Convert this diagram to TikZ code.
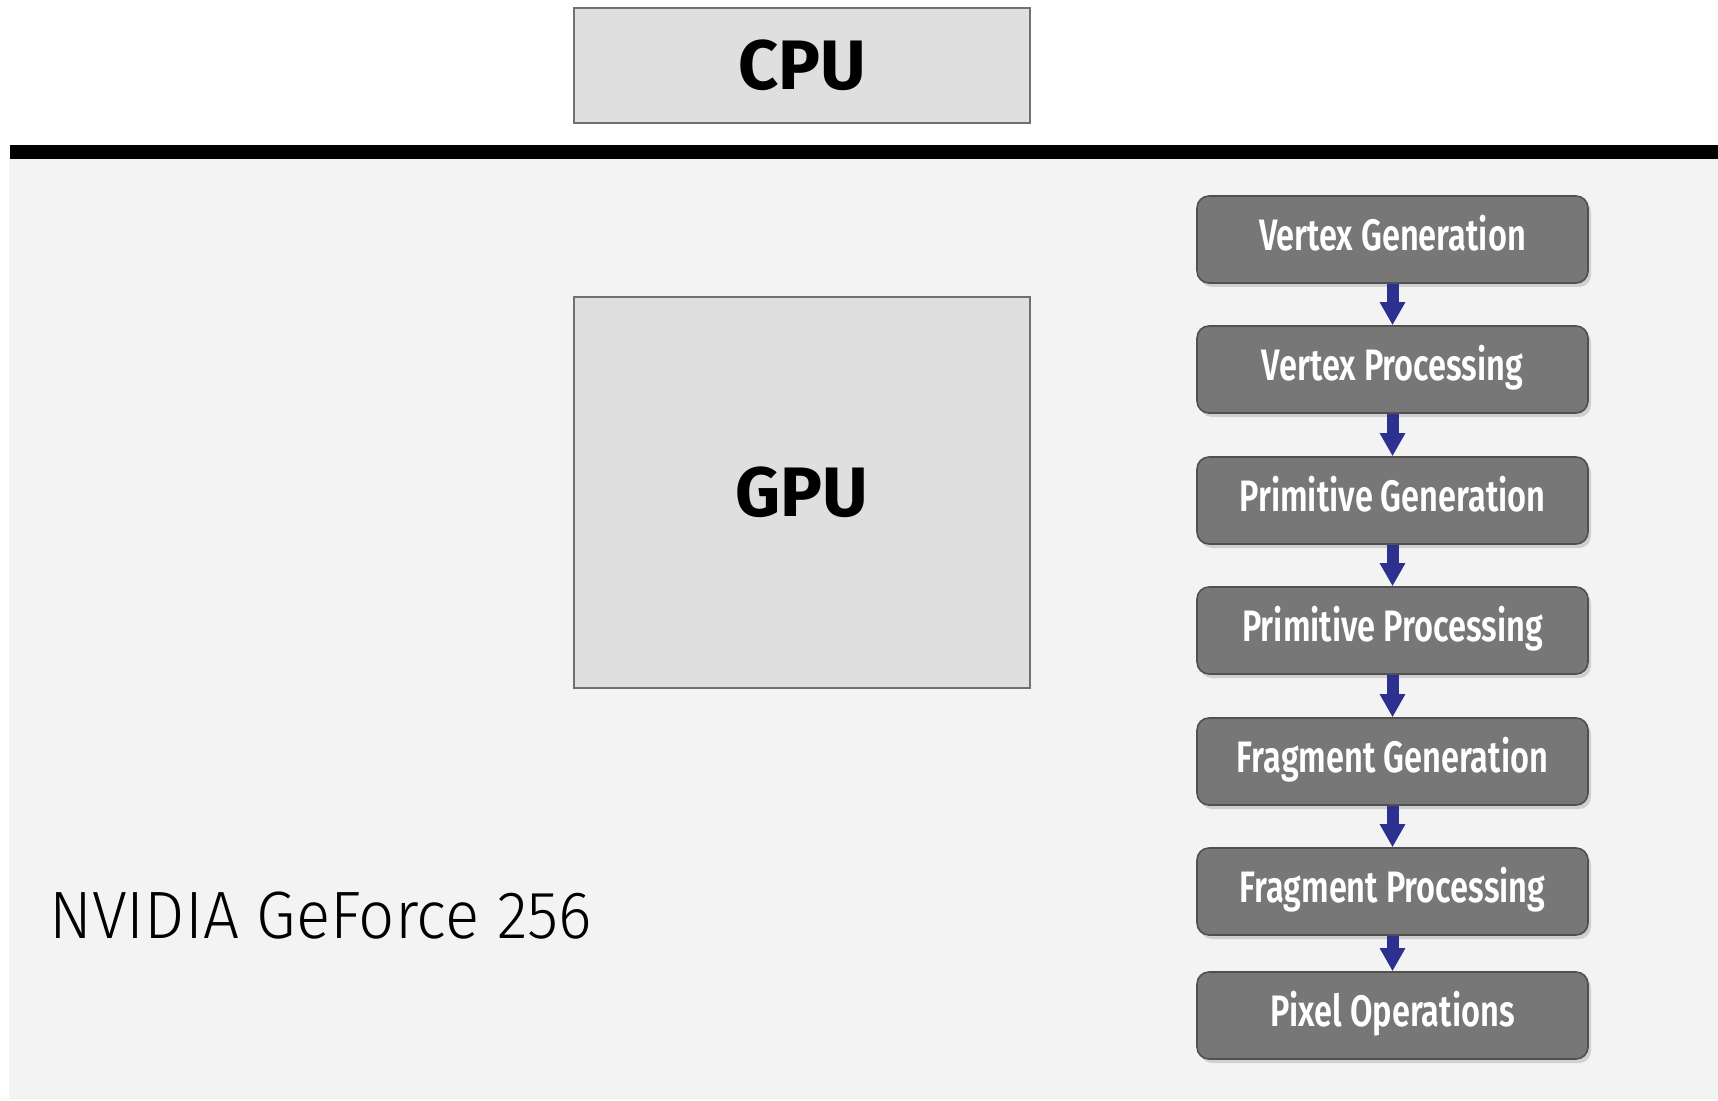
\documentclass[tikz,border=0pt]{standalone}
\usepackage{fontspec}
\setmainfont{Fira Sans}
\newfontfamily\stagefont[FakeStretch=0.74]{Fira Sans SemiBold}
\newfontfamily\lightfont[FakeStretch=0.95]{Fira Sans Light}
\usetikzlibrary{arrows.meta,shadows}
\definecolor{panel}{HTML}{F3F3F3}
\definecolor{unitgray}{HTML}{DFDFDF}
\definecolor{unitline}{HTML}{707070}
\definecolor{stagegray}{HTML}{777777}
\definecolor{stageline}{HTML}{505050}
\definecolor{flowblue}{HTML}{2C3190}
\begin{document}
\begin{tikzpicture}[x=0.5pt,y=-0.5pt]
  \tikzstyle{unit} = [draw=unitline, fill=unitgray, line width=1pt, inner sep=0pt, font=\bfseries\fontsize{35}{40}\selectfont]
  \tikzstyle{stage} = [draw=stageline, fill=stagegray, line width=0.8pt, rounded corners=6pt, minimum width=195.5pt, minimum height=43.5pt, inner sep=0pt, text height=15pt, text depth=3.8pt, text=white, font=\stagefont\fontsize{22}{24}\selectfont, drop shadow={opacity=0.3, shadow xshift=1.5pt, shadow yshift=-2pt}]
  \tikzstyle{flow} = [draw=flowblue, line width=6pt, -{Triangle[width=12pt,length=11.5pt]}]

  \useasboundingbox (0,0) rectangle (1718,1101);
  \fill[panel] (9,158) rectangle (1718,1099);
  \fill[black] (10,145) rectangle (1718,159);

  \node[unit, minimum width=228pt, minimum height=57.5pt] (cpu) at (802,65.5) {CPU};
  \node[unit, minimum width=228pt, minimum height=195.5pt] (gpu) at (802,492.5) {GPU};
  \node[anchor=base west, inner sep=0pt, font=\lightfont\fontsize{33.5}{38}\selectfont] (card) at (49,938) {NVIDIA GeForce 256};

  \node[stage] (p1) at (1392.5,239.5) {Vertex Generation};
  \node[stage] (p2) at (1392.5,369.5) {Vertex Processing};
  \node[stage] (p3) at (1392.5,500.5) {Primitive Generation};
  \node[stage] (p4) at (1392.5,630.5) {Primitive Processing};
  \node[stage] (p5) at (1392.5,761.5) {Fragment Generation};
  \node[stage] (p6) at (1392.5,891.5) {Fragment Processing};
  \node[stage] (p7) at (1392.5,1015.5) {Pixel Operations};

  \draw[flow] (p1) to (p2);
  \draw[flow] (p2) to (p3);
  \draw[flow] (p3) to (p4);
  \draw[flow] (p4) to (p5);
  \draw[flow] (p5) to (p6);
  \draw[flow] (p6) to (p7);
\end{tikzpicture}
\end{document}
